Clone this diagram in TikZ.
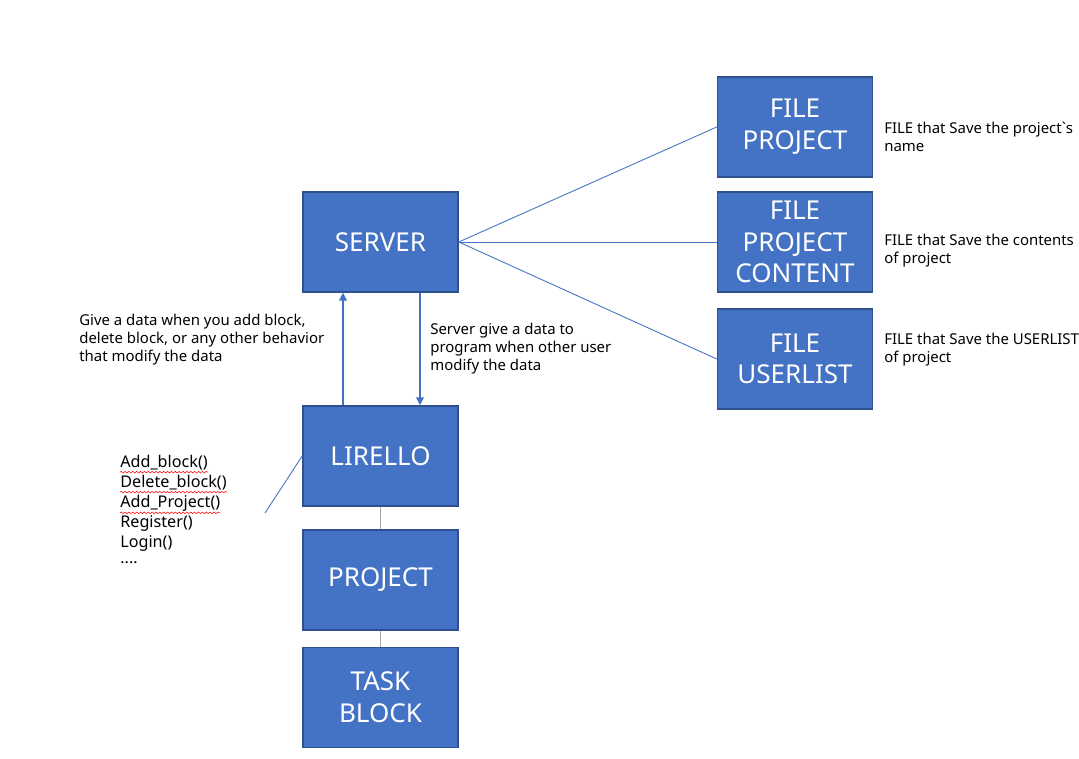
\documentclass[tikz,border=0pt]{standalone}
\usepackage{fontspec}
\setmainfont{Noto Sans}
\usetikzlibrary{positioning,arrows.meta,decorations.pathmorphing}
\definecolor{boxfill}{HTML}{4472C4}
\definecolor{boxedge}{HTML}{2F528F}
\definecolor{linkgray}{HTML}{A5A5A5}
\begin{document}
\begin{tikzpicture}[x=0.02cm,y=-0.02cm,
	box/.style={draw=boxedge,fill=boxfill,line width=0.9pt,minimum width=3.1cm,minimum height=2cm,inner sep=0pt,align=center,text=white,font=\fontsize{14.8}{18}\selectfont},
	note/.style={anchor=west,align=left,inner sep=0pt,font=\fontsize{8.5}{10.2}\selectfont},
	item/.style={anchor=west,inner sep=0pt,font=\fontsize{9.2}{11}\selectfont},
	link/.style={draw=boxfill,line width=0.5pt},
	tie/.style={draw=linkgray,line width=0.6pt},
	flow/.style={draw=boxfill,line width=0.6pt,-{Triangle[length=4.5pt,width=4.5pt]}},
	squiggle/.style={draw=red,line width=0.3pt,decorate,decoration={snake,amplitude=0.45pt,segment length=2.2pt}}]
	\useasboundingbox (0,0) rectangle (1079,759);
	% boxes
	\node [box] (server) at (380.5,242) {SERVER};
	\node [box] (lirello) at (380.5,456) {LIRELLO};
	\node [box] (project) at (380.5,580) {PROJECT};
	\node [box] (task) at (380.5,697.5) {TASK\\BLOCK};
	\node [box] (fproj) at (795,127) {FILE\\PROJECT};
	\node [box] (fcont) at (795,242) {FILE\\PROJECT\\CONTENT};
	\node [box] (fuser) at (795,359) {FILE\\USERLIST};
	% notes
	\node [note] (nproj) at (884,137) {FILE that Save the project\textasciigrave s\\name};
	\node [note] (ncont) at (884,251) {FILE that Save the contents\\of project};
	\node [note] (nuser) at (884,350) {FILE that Save the USERLIST\\of project};
	\node [note] (nup) at (79,340) {Give a data when you add block,\\delete block, or any other behavior\\that modify the data};
	\node [note] (ndown) at (430,349) {Server give a data to\\program when other user\\modify the data};
	% function list
	\node [item] (addblock) at (120,463) {Add\_block()};
	\node [item] (delblock) at (120,483) {Delete\_block()};
	\node [item] (addproj) at (120,503) {Add\_Project()};
	\node [item] (register) at (120,523) {Register()};
	\node [item] (login) at (120,543) {Login()};
	\node [item] (more) at (120,563) {....};
	\draw [squiggle] ([yshift=-0.8pt]addblock.south west) -- ([yshift=-0.8pt]addblock.south east);
	\draw [squiggle] ([yshift=-0.8pt]delblock.south west) -- ([yshift=-0.8pt]delblock.south east);
	\draw [squiggle] ([yshift=-0.8pt]addproj.south west) -- ([yshift=-0.8pt]addproj.south east);
	\coordinate (listend) at (265,513);
	% connectors
	\draw [link] (server.east) -- (fproj.west);
	\draw [link] (server.east) -- (fcont.west);
	\draw [link] (server.east) -- (fuser.west);
	\draw [link] (lirello.west) -- (listend);
	\draw [flow] ([xshift=-0.75cm]lirello.north) -- ([xshift=-0.75cm]server.south);
	\draw [flow] ([xshift=0.79cm]server.south) -- ([xshift=0.79cm]lirello.north);
	\draw [tie] (lirello.south) -- (project.north);
	\draw [tie] (project.south) -- (task.north);
\end{tikzpicture}
\end{document}
